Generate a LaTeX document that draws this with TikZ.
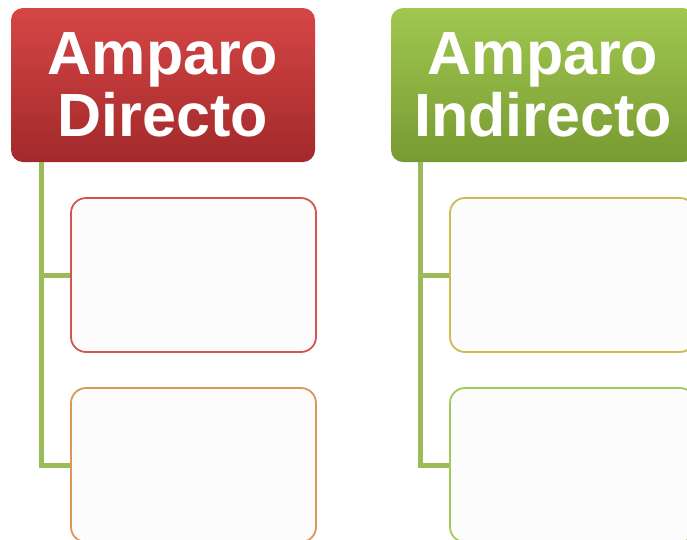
\documentclass[tikz,border=0pt]{standalone}
\usepackage{fontspec}
\setmainfont{Liberation Sans}
\usepackage{tikz}
\usetikzlibrary{calc,positioning}

\definecolor{hdrredtop}{HTML}{D64646}
\definecolor{hdrredbot}{HTML}{A2292A}
\definecolor{hdrgreentop}{HTML}{A0C850}
\definecolor{hdrgreenbot}{HTML}{789A32}
\definecolor{trunkgreen}{HTML}{9BBB59}
\definecolor{boxfill}{HTML}{FCFCFC}
\definecolor{edgered}{HTML}{D45452}
\definecolor{edgeorange}{HTML}{D9975C}
\definecolor{edgeolive}{HTML}{CBBB55}
\definecolor{edgegreen}{HTML}{A3C95B}

\tikzset{
	header/.style={rounded corners=12pt, minimum width=304pt, minimum height=154pt,
		text=white, align=center, font=\fontsize{61}{62}\selectfont\bfseries,
		inner sep=0pt, draw=none},
	itembox/.style={draw, line width=1.8pt, fill=boxfill, rounded corners=15pt,
		minimum width=245pt, minimum height=154pt, inner sep=0pt},
	trunk/.style={trunkgreen, line width=5pt}
}

\begin{document}
\begin{tikzpicture}[x=1pt, y=-1pt]
				\useasboundingbox (0, 0) rectangle (687, 539);
				
				% amparo directo
				\node[header, top color=hdrredtop, bottom color=hdrredbot] (directo) at (163, 85) {Amparo\\Directo};
				\node[itembox, draw=edgered] (directoA) at (193.5, 275) {};
				\node[itembox, draw=edgeorange] (directoB) at (193.5, 465) {};
				\coordinate (trunkD) at ($(directo.south west)+(31, 0)$);
				\draw[trunk] (trunkD) |- (directoA.west);
				\draw[trunk] (trunkD) |- (directoB.west);
				
				% amparo indirecto
				\node[header, top color=hdrgreentop, bottom color=hdrgreenbot] (indirecto) at (543, 85) {Amparo\\Indirecto};
				\node[itembox, draw=edgeolive] (indirectoA) at (572.5, 275) {};
				\node[itembox, draw=edgegreen] (indirectoB) at (572.5, 465) {};
				\coordinate (trunkI) at ($(indirecto.south west)+(30, 0)$);
				\draw[trunk] (trunkI) |- (indirectoA.west);
				\draw[trunk] (trunkI) |- (indirectoB.west);
			\end{tikzpicture}
\end{document}
